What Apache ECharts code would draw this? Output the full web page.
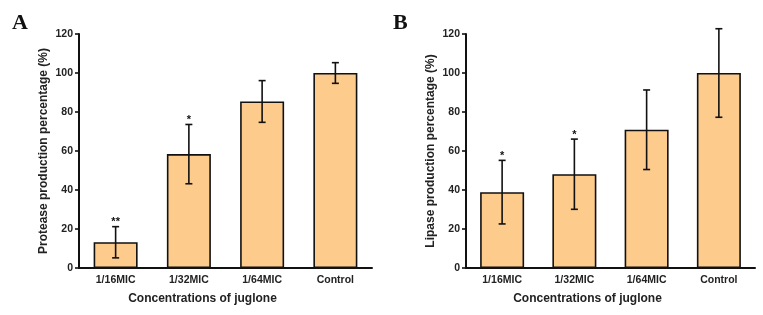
<!DOCTYPE html>
<html>
<head>
<meta charset="utf-8">
<script src="https://cdn.jsdelivr.net/npm/echarts@6/dist/echarts.min.js"></script>
<style>
  html, body { margin: 0; padding: 0; background: #fff; }
  #chart { width: 763px; height: 315px; }
</style>
</head>
<body>
<div id="chart"></div>
<script>
// data
var categories = ['1/16MIC', '1/32MIC', '1/64MIC', 'Control'];
var proteaseMean = [13.2, 58.4, 85.4, 100];
var proteaseSd = [8, 15.2, 10.7, 5.3];
var proteaseMarks = ['**', '*', '', ''];
var lipaseMean = [38.9, 48.1, 70.9, 100];
var lipaseSd = [16.3, 18, 20.4, 22.7];
var lipaseMarks = ['*', '*', '', ''];

var barColor = '#FDCB8C';
var font = 'Liberation Sans, Arial, sans-serif';

var chart = echarts.init(document.getElementById('chart'));

function errData(mean, sd, marks) {
    var out = [];
    for (var i = 0; i < mean.length; i++) {
        out.push([i, mean[i] - sd[i], mean[i] + sd[i], marks[i]]);
    }
    return out;
}

function renderErr(params, api) {
    var lo = api.coord([api.value(0), api.value(1)]);
    var hi = api.coord([api.value(0), api.value(2)]);
    var cap = 3.5;
    var st = { stroke: '#111', lineWidth: 1.6 };
    var kids = [
        { type: 'line', shape: { x1: lo[0], y1: lo[1], x2: hi[0], y2: hi[1] }, style: st },
        { type: 'line', shape: { x1: lo[0] - cap, y1: lo[1], x2: lo[0] + cap, y2: lo[1] }, style: st },
        { type: 'line', shape: { x1: hi[0] - cap, y1: hi[1], x2: hi[0] + cap, y2: hi[1] }, style: st }
    ];
    var mark = api.value(3);
    if (mark) {
        kids.push({
            type: 'text',
            style: {
                x: hi[0], y: hi[1] + 1, text: mark,
                fill: '#111', font: 'bold 11px ' + font,
                align: 'center', verticalAlign: 'bottom'
            }
        });
    }
    return { type: 'group', children: kids };
}

function xAxisFor(idx) {
    return {
        type: 'category', gridIndex: idx, data: categories,
        name: 'Concentrations of juglone', nameLocation: 'middle', nameGap: 25,
        nameTextStyle: { fontFamily: font, fontWeight: 'bold', fontSize: 12, color: '#222', padding: [0, 46, 0, 0] },
        axisLine: { lineStyle: { color: '#111', width: 2 } },
        axisTick: { alignWithLabel: true, length: 4, lineStyle: { color: '#111', width: 1.6 } },
        axisLabel: { fontFamily: font, fontWeight: 'bold', fontSize: 10.5, color: '#222', margin: 7 }
    };
}

function yAxisFor(idx, title) {
    return {
        type: 'value', gridIndex: idx, min: 0, max: 120, interval: 20,
        name: title, nameLocation: 'middle', nameGap: 29, nameRotate: 90,
        nameTextStyle: { fontFamily: font, fontWeight: 'bold', fontSize: 12, color: '#222' },
        axisLine: { show: true, lineStyle: { color: '#111', width: 2 } },
        axisTick: { show: true, length: 4, lineStyle: { color: '#111', width: 1.6 } },
        axisLabel: { fontFamily: font, fontWeight: 'bold', fontSize: 10.5, color: '#222', margin: 6 },
        splitLine: { show: false }
    };
}

function barSeries(idx, values) {
    return {
        type: 'bar', xAxisIndex: idx, yAxisIndex: idx, data: values, barWidth: 44,
        itemStyle: { color: barColor, borderColor: '#111', borderWidth: 1.6 },
        silent: true
    };
}

function errSeries(idx, mean, sd, marks) {
    return {
        type: 'custom', xAxisIndex: idx, yAxisIndex: idx,
        data: errData(mean, sd, marks), renderItem: renderErr, z: 5, silent: true
    };
}

chart.setOption({
    animation: false,
    grid: [
        { left: 79, right: 391, top: 34, bottom: 47 },
        { left: 466, right: 8, top: 34, bottom: 47 }
    ],
    title: [
        { text: 'A', left: 7, top: 7, textStyle: { fontFamily: 'Liberation Serif, Times New Roman, serif', fontWeight: 'bold', fontSize: 22, color: '#111' } },
        { text: 'B', left: 388, top: 7, textStyle: { fontFamily: 'Liberation Serif, Times New Roman, serif', fontWeight: 'bold', fontSize: 22, color: '#111' } }
    ],
    xAxis: [xAxisFor(0), xAxisFor(1)],
    yAxis: [yAxisFor(0, 'Protease production percentage (%)'), yAxisFor(1, 'Lipase production percentage (%)')],
    series: [
        barSeries(0, proteaseMean),
        errSeries(0, proteaseMean, proteaseSd, proteaseMarks),
        barSeries(1, lipaseMean),
        errSeries(1, lipaseMean, lipaseSd, lipaseMarks)
    ]
});
</script>
</body>
</html>
